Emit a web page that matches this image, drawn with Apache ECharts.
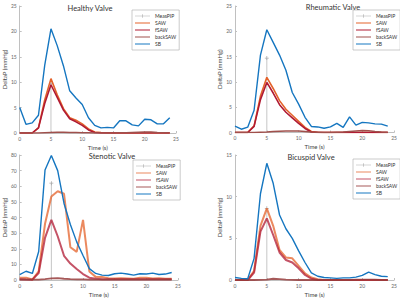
<!DOCTYPE html>
<html><head><meta charset="utf-8">
<script src="https://cdn.jsdelivr.net/npm/echarts@6/dist/echarts.min.js"></script>
<style>html,body{margin:0;padding:0;background:#fff}#c{width:400px;height:298px}</style>
</head><body><div id="c"></div>
<script>
const time = [0,1,2,3,4,5,6,7,8,9,10,11,12,13,14,15,16,17,18,19,20,21,22,23,24];
const seriesNames = ['MeasPIP','SAW','fSAW','backSAW','SB'];
const panelTitles = ['Healthy Valve','Rheumatic Valve','Stenotic Valve','Bicuspid Valve'];
const measTime = 5;
const yMaxs = [25,25,80,15];
const ySteps = [5,5,10,5];

// Healthy
const healthyPIP = 9.8;
const healthySAW = [0,0,0,1.0,6.5,10.7,7.5,4.8,3.0,2.5,1.8,0.8,0.2,0.1,0.05,0,0,0,0,0,0,0,0,0,0];
const healthyFSAW = [0,0,0,1.0,5.8,9.5,7.0,4.5,2.8,2.2,1.5,0.6,0.1,0,0,0,0,0,0,0,0,0,0,0,0];
const healthyBack = [0,0,0,0,0.05,0.1,0.15,0.15,0.1,0.1,0.05,0.05,0,0,0,0,0.05,0.05,0.1,0.15,0.2,0.2,0.1,0.05,0];
const healthySB = [5.0,1.7,2.0,3.5,13.3,20.5,17.2,13.2,8.3,6.9,5.6,3.0,1.5,1.0,1.1,1.0,2.4,2.4,1.6,1.4,2.7,2.6,1.8,1.8,3.0];
// Rheumatic
const rheumPIP = 14.7;
const rheumSAW = [0,0,0,1.3,7.2,10.9,8.7,6.3,4.6,3.4,2.2,1.0,0.2,0.05,0,0,0,0,0,0,0,0,0,0,0];
const rheumFSAW = [0,0,0,1.2,6.5,9.9,7.8,5.5,4.0,2.9,1.8,0.8,0.1,0,0,0,0,0,0,0,0,0,0,0,0];
const rheumBack = [0,0,0,0,0.05,0.1,0.2,0.25,0.3,0.3,0.3,0.2,0.1,0.05,0,0,0.05,0.1,0.2,0.3,0.4,0.35,0.2,0.1,0.05];
const rheumSB = [1.25,0.65,1.05,4.4,15.3,20.3,17.8,15.3,12.3,7.9,5.6,3.0,1.2,1.1,0.85,1.1,1.8,1.0,3.1,1.45,2.0,1.9,1.7,1.65,1.25];
// Stenotic
const stenPIP = 62;
const stenSAW = [1.5,1.5,0.3,5.5,36,53.5,56.8,55.2,21,18,38.5,5.5,2,2,1.2,1,1.2,1,0.8,1.5,1.5,1,1.2,0.8,0.8];
const stenFSAW = [0.5,0.3,0.2,4.5,27,38.5,28,15.5,10.5,7,3.8,1.5,0.8,0.5,0.5,0.5,0.5,0.5,0.5,0.5,0.5,0.5,0.5,0.5,0.5];
const stenBack = [0.2,0.2,0.2,0.3,0.6,1.0,1.2,0.8,0.5,0.4,0.4,0.3,0.3,0.3,0.3,0.3,0.3,0.3,0.3,0.3,0.3,0.3,0.3,0.3,0.3];
const stenSB = [3.5,5.6,4.2,18.2,70.4,79.7,70,49,35.5,24.4,15.7,7.3,4.2,3.1,2.9,4.0,4.4,3.8,3.1,4.0,3.8,4.4,3.5,3.8,4.8];
// Bicuspid
const bicPIP = 8.6;
const bicSAW = [0,0,0,1.1,6.5,8.6,6.5,3.6,2.7,2.6,1.7,0.8,0.3,0.1,0,0,0,0,0,0,0,0,0,0,0];
const bicFSAW = [0,0,0,0.9,5.8,7.4,5.4,3.3,2.4,2.1,1.4,0.6,0.15,0,0,0,0,0,0,0,0,0,0,0,0];
const bicBack = [0,0,0,0,0.02,0.05,0.15,0.1,0.05,0.02,0,0,0,0,0,0,0,0,0,0.03,0.05,0.05,0.03,0,0];
const bicSB = [0.3,0.2,0.15,2.6,10.35,14.0,11.6,7.8,6.15,5.0,3.5,2.1,0.85,0.45,0.3,0.25,0.2,0.25,0.25,0.35,0.55,0.95,0.65,0.45,0.4];

const panels = [
  {pip: healthyPIP, saw: healthySAW, fsaw: healthyFSAW, back: healthyBack, sb: healthySB},
  {pip: rheumPIP, saw: rheumSAW, fsaw: rheumFSAW, back: rheumBack, sb: rheumSB},
  {pip: stenPIP, saw: stenSAW, fsaw: stenFSAW, back: stenBack, sb: stenSB},
  {pip: bicPIP, saw: bicSAW, fsaw: bicFSAW, back: bicBack, sb: bicSB}
];

const grids = [
  {left: 14, top: 6, width: 162, height: 127},
  {left: 235, top: 6, width: 163, height: 126.5},
  {left: 16, top: 155, width: 162, height: 127.3},
  {left: 235, top: 155, width: 163, height: 127.3}
];
const legendPos = [[132,10],[353,10],[133,160],[353,159]];
const titlePos = [[90,8],[333,7],[112,156],[311,157]];

const palettes = [
  {MeasPIP:'#aaaaaa', SAW:'#E4622A', fSAW:'#B01A33', backSAW:'#A0504C', SB:'#1576C0'},
  {MeasPIP:'#aaaaaa', SAW:'#E4622A', fSAW:'#B01A33', backSAW:'#A0504C', SB:'#1576C0'},
  {MeasPIP:'#aaaaaa', SAW:'rgba(228,98,42,0.75)', fSAW:'rgba(176,26,51,0.75)', backSAW:'rgba(150,60,60,0.85)', SB:'#1576C0'},
  {MeasPIP:'#aaaaaa', SAW:'rgba(228,98,42,0.75)', fSAW:'rgba(176,26,51,0.75)', backSAW:'rgba(150,60,60,0.85)', SB:'#1576C0'}
];
const widths = [
  {SAW:1.6, fSAW:1.6, backSAW:1.6, SB:1.4},
  {SAW:1.6, fSAW:1.6, backSAW:1.6, SB:1.4},
  {SAW:2, fSAW:2, backSAW:1.8, SB:1.4},
  {SAW:2, fSAW:2, backSAW:1.8, SB:1.4}
];
const plusPath = 'path://M4,0H6V4H10V6H6V10H4V6H0V4H4Z';
const lineIcon = 'path://M0,0M30,10M0,4H30V6H0Z';
const pipIcon = 'path://M0,0M30,10M0,4.6H30V5.4H0Z M14.4,1.6H15.6V8.4H14.4Z M11.6,4.4H18.4V5.6H11.6Z';
const axisGray = '#c0c0c0';

const option = {
  animation: false,
  grid: grids.map(g => Object.assign({containLabel:false}, g)),
  xAxis: grids.map((g,i) => ({
    type:'value', gridIndex:i, min:0, max:25, interval:5,
    name:'Time (s)', nameLocation:'middle', nameGap:11,
    nameTextStyle:{fontSize:6, color:'#444', fontFamily:'Lato'},
    axisLine:{lineStyle:{color:axisGray, width:1}},
    axisTick:{inside:true, length:2, lineStyle:{color:axisGray}},
    axisLabel:{fontSize:5, color:'#666', margin:3, fontFamily:'Lato'},
    splitLine:{show:false}
  })),
  yAxis: grids.map((g,i) => ({
    type:'value', gridIndex:i, min:0, max:yMaxs[i], interval:ySteps[i],
    name:'DeltaP (mmHg)', nameLocation:'middle', nameGap:10,
    nameTextStyle:{fontSize:6, color:'#444', fontFamily:'Lato'},
    axisLine:{show:true, lineStyle:{color:axisGray, width:1}},
    axisTick:{show:true, inside:true, length:2, lineStyle:{color:axisGray}},
    axisLabel:{fontSize:5, color:'#666', margin:3, fontFamily:'Lato'},
    splitLine:{show:false}
  })),
  legend: legendPos.map((p,i) => ({
    data: seriesNames.map(n => ({
      name:n, icon: n === 'MeasPIP' ? pipIcon : lineIcon,
      itemStyle:{color: palettes[i][n]}
    })),
    orient:'vertical', left:p[0], top:p[1],
    backgroundColor:'#fff', borderColor:'#aaa', borderWidth:0.6,
    padding:[3,3,3,3], itemWidth:15, itemHeight:5, itemGap:1,
    textStyle:{fontSize:5, color:'#333', lineHeight:6, fontFamily:'Lato'},
    selectedMode:false
  })),
  graphic: titlePos.map((p,i) => ({
    type:'text', x:p[0], y:p[1],
    style:{text:panelTitles[i], fontSize:7.5, fontFamily:'Lato', fill:'#333',
      align:'center', textAlign:'center', verticalAlign:'middle', textVerticalAlign:'middle'}
  })),
  series: []
};

panels.forEach((p,i) => {
  option.series.push({
    name:'MeasPIP', type:'line', xAxisIndex:i, yAxisIndex:i,
    symbol:plusPath, symbolSize:4, showSymbol:true,
    data:[{value:[measTime,0], symbol:'none'}, {value:[measTime,p.pip]}],
    lineStyle:{color:'#c6c6c6', width:1}, itemStyle:{color:'#aaa'}, z:1
  });
  const add = (name, arr) => option.series.push({
    name, type:'line', xAxisIndex:i, yAxisIndex:i, symbol:'none',
    data: time.map((t,k) => [t, arr[k]]),
    lineStyle:{color:palettes[i][name], width:widths[i][name]},
    itemStyle:{color:palettes[i][name]}, z:2
  });
  add('SAW', p.saw);
  add('fSAW', p.fsaw);
  add('backSAW', p.back);
  add('SB', p.sb);
});

const chart = echarts.init(document.getElementById('c'), null, {renderer:'svg'});
chart.setOption(option);
</script>
</body></html>
